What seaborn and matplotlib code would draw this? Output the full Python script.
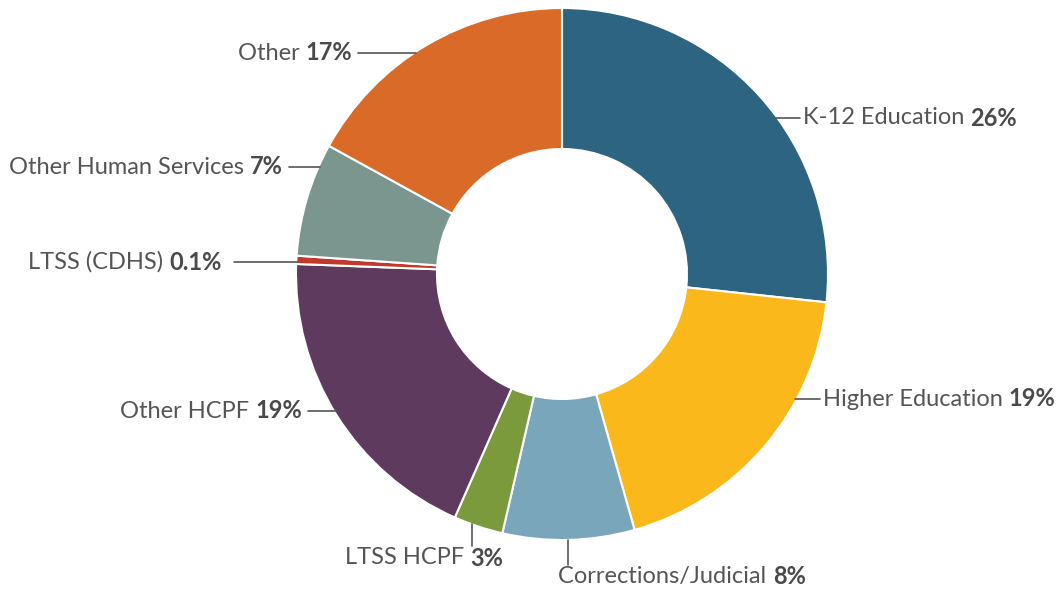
import numpy as np
import matplotlib
matplotlib.use("Agg")
import matplotlib.pyplot as plt
import seaborn as sns

# slice names, estimated shares and printed labels
categories = ["K-12 Education", "Higher Education", "Corrections/Judicial", "LTSS HCPF",
              "Other HCPF", "LTSS (CDHS)", "Other Human Services", "Other"]
shares = [26.7, 18.9, 8.0, 3.0, 19.0, 0.5, 6.9, 17.0]
pct_labels = ["26%", "19%", "8%", "3%", "19%", "0.1%", "7%", "17%"]
colors = ["#2c6481", "#fbb81b", "#79a6bb", "#7a9a3b", "#5e3b5e", "#c0392b", "#7a968f", "#d96a28"]

# label layout in image pixels: (kind, x, y)
#   "r"/"l" -> horizontal leader, x = text start / text end
#   "v"     -> vertical leader at x, text centred below at y
label_layout = [("r", 803, 118), ("r", 823, 399), ("v", 568, 577), ("v", 472, 558),
                ("l", 302, 411), ("l", 222, 262), ("l", 283, 167), ("l", 352, 53)]
vtext_x = {2: 682, 3: 424}

W, H = 1057, 592
CX, CY, R = 562, 274, 266
TXT = "#555555"
BOLD = "#4a4a4a"
FS = 17

sns.set_theme(style="white")
plt.rcParams['font.family'] = ['Lato', 'DejaVu Sans']

fig = plt.figure(figsize=(W / 100, H / 100), dpi=100)
ax = fig.add_axes([0, 0, 1, 1])

ax.pie(shares, colors=colors, startangle=90, counterclock=False,
       center=(CX, H - CY), radius=R,
       wedgeprops=dict(width=141, edgecolor="white", linewidth=1.5))
ax.set_xlim(0, W)
ax.set_ylim(0, H)
ax.set_aspect("equal")
ax.set_axis_off()

renderer = fig.canvas.get_renderer()


def width_of(t):
    return t.get_window_extent(renderer=renderer).width


def two_part(x, y, name, pct, align):
    # regular name followed by bold percentage
    yy = H - y
    if align == "left":
        t1 = ax.text(x, yy, name + " ", color=TXT, fontsize=FS, ha="left", va="center")
        ax.text(x + width_of(t1), yy, pct, color=BOLD, fontsize=FS, fontweight="bold",
                ha="left", va="center")
    elif align == "right":
        t2 = ax.text(x, yy, pct, color=BOLD, fontsize=FS, fontweight="bold",
                     ha="right", va="center")
        ax.text(x - width_of(t2), yy, name + " ", color=TXT, fontsize=FS, ha="right", va="center")
    else:
        t1 = ax.text(0, yy, name + " ", color=TXT, fontsize=FS, ha="left", va="center")
        t2 = ax.text(0, yy, pct, color=BOLD, fontsize=FS, fontweight="bold",
                     ha="left", va="center")
        w1, w2 = width_of(t1), width_of(t2)
        start = x - (w1 + w2) / 2
        t1.set_x(start)
        t2.set_x(start + w1)


for i, (kind, x, y) in enumerate(label_layout):
    if kind == "r":
        arc_x = CX + np.sqrt(R ** 2 - (y - CY) ** 2)
        ax.plot([arc_x - 2, x - 3], [H - y, H - y], color=TXT, lw=1.2)
        two_part(x, y, categories[i], pct_labels[i], "left")
    elif kind == "l":
        arc_x = CX - np.sqrt(R ** 2 - (y - CY) ** 2)
        ax.plot([x + 6 if i != 5 else x + 12, arc_x + 2], [H - y, H - y], color=TXT, lw=1.2)
        two_part(x, y, categories[i], pct_labels[i], "right")
    else:
        arc_y = CY + np.sqrt(R ** 2 - (x - CX) ** 2)
        ax.plot([x, x], [H - arc_y, H - (y - 12)], color=TXT, lw=1.2)
        two_part(vtext_x[i], y, categories[i], pct_labels[i], "center")

fig.savefig("out.png", dpi=100, facecolor="white")
